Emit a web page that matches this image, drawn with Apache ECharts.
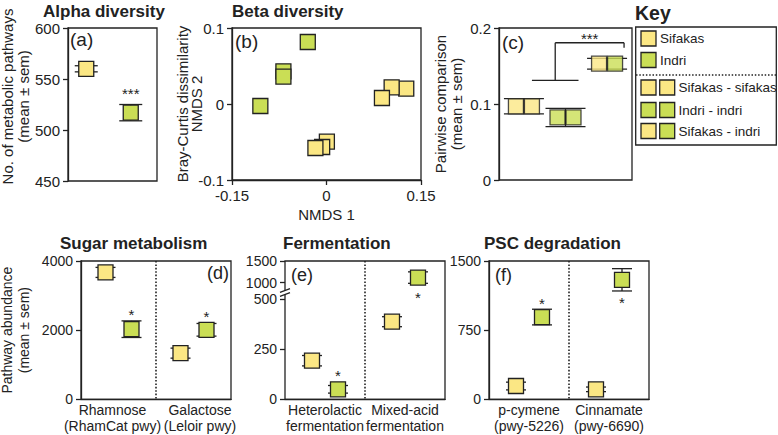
<!DOCTYPE html>
<html><head><meta charset="utf-8">
<script src="https://cdn.jsdelivr.net/npm/echarts@6/dist/echarts.min.js"></script>
<style>html,body{margin:0;padding:0;background:#fff}#c{width:778px;height:435px}</style>
</head><body><div id="c"></div>
<script>
// ---------------- data ----------------
const speciesNames = ['Sifakas', 'Indri'];

// (a) Alpha diversity
const alphaCategories = ['Sifakas', 'Indri'];
const alphaMean = [560, 517];
const alphaSem = [3, 8];
const alphaSig = ['', '***'];
const alphaTicks = [450, 500, 550, 600];

// (b) Beta diversity (NMDS 1, NMDS 2)
const betaSifakas = [[0.1266, 0.0201], [0.1034, 0.0220], [0.0880, 0.0079],
                     [0.0006, -0.0496], [-0.0069, -0.0566], [-0.0176, -0.0579]];
const betaIndri = [[-0.0297, 0.0816], [-0.0684, 0.0430], [-0.0684, 0.0360], [-0.1050, -0.0026]];
const betaXTicks = [-0.15, 0, 0.15];
const betaYTicks = [-0.1, 0, 0.1];

// (c) Pairwise comparison
const pairCategories = ['Sifakas - sifakas', 'Indri - indri', 'Sifakas - indri'];
const pairLeftSpecies = ['Sifakas', 'Indri', 'Sifakas'];
const pairRightSpecies = ['Sifakas', 'Indri', 'Indri'];
const pairMean = [0.097, 0.0823, 0.153];
const pairSem = [0.010, 0.012, 0.007];
const pairBracketY = [0.131, 0.1806, 0.174];
const pairSig = '***';
const pairTicks = [0, 0.1, 0.2];

// (d) Sugar metabolism
const sugarCategories = ['Rhamnose\n(RhamCat pwy)', 'Galactose\n(Leloir pwy)'];
const sugarSifakasMean = [3670, 1335];
const sugarSifakasSem = [145, 145];
const sugarIndriMean = [2028, 2010];
const sugarIndriSem = [240, 183];
const sugarSig = ['*', '*'];
const sugarSigSide = ['top', 'top'];
const sugarTicks = [0, 2000, 4000];

// (e) Fermentation (broken axis)
const fermCategories = ['Heterolactic\nfermentation', 'Mixed-acid\nfermentation'];
const fermSifakasMean = [193, 388];
const fermSifakasSem = [26, 25];
const fermIndriMean = [50, 1118];
const fermIndriSem = [19, 132];
const fermSig = ['*', '*'];
const fermSigSide = ['top', 'bottom'];
const fermLowTicks = [0, 250, 500];
const fermHighTicks = [1000, 1500];

// (f) PSC degradation
const pscCategories = ['p-cymene\n(pwy-5226)', 'Cinnamate\n(pwy-6690)'];
const pscSifakasMean = [144, 108];
const pscSifakasSem = [42, 25];
const pscIndriMean = [892, 1296];
const pscIndriSem = [85, 121];
const pscSig = ['*', '*'];
const pscSigSide = ['top', 'bottom'];
const pscTicks = [0, 750, 1500];

// ---------------- style ----------------
const FONT = '"Liberation Sans", Arial, Helvetica, sans-serif';
const INK = '#222222';
const COLORS = { Sifakas: '#FBE784', Indri: '#CADE55' };
const LW = 1.3;
const SQ = 15;

const chart = echarts.init(document.getElementById('c'), null, { renderer: 'svg' });

const plain = v => String(Math.round(v * 1000) / 1000);
function valueAxis(gi, ticks, fs, extra) {
  return Object.assign({
    type: 'value', gridIndex: gi,
    min: ticks[0], max: ticks[ticks.length - 1], interval: ticks[1] - ticks[0],
    axisLine: { show: true, onZero: false, lineStyle: { color: INK, width: LW } },
    axisTick: { show: true, length: 5, lineStyle: { color: INK, width: LW } },
    axisLabel: { color: INK, fontSize: fs, lineHeight: fs, fontFamily: FONT, margin: 8, formatter: plain },
    splitLine: { show: false }
  }, extra || {});
}
function yName(name, gap, fs, lh, pad) {
  return { name: name, nameLocation: 'middle', nameRotate: 90, nameGap: gap, nameMoveOverlap: false,
    nameTextStyle: { color: INK, fontSize: fs, fontFamily: FONT, lineHeight: lh, padding: pad || 0 } };
}
function catAxis(gi, cats, showLabels, dividers, pads) {
  return {
    type: 'category', gridIndex: gi, boundaryGap: true,
    data: cats.map((c, i) => pads ? { value: c, textStyle: { padding: pads[i] } } : c),
    show: true,
    axisLine: { show: showLabels, onZero: false, lineStyle: { color: INK, width: LW } },
    axisTick: { show: false, interval: 0 },
    axisLabel: { show: showLabels, interval: 0, color: INK, fontSize: 14, fontFamily: FONT, lineHeight: 15.5, margin: 3 },
    splitLine: { show: dividers, interval: 0, showMinLine: false, showMaxLine: false,
      lineStyle: { color: INK, width: 1.6, type: [1.6, 1.8] } }
  };
}

// error bars (+ optional significance stars) drawn through the axis scales
function errSeries(xi, yi, items, capW, offset, starTop, starBottom) {
  return {
    type: 'custom', xAxisIndex: xi, yAxisIndex: yi, z: 2, silent: true,
    data: items.map(d => [d.x, d.m, d.s]),
    renderItem: function (params, api) {
      const d = items[params.dataIndex];
      const x = api.value(0), m = api.value(1), s = api.value(2);
      const pt = api.coord([x, m + s]), pb = api.coord([x, m - s]), pm = api.coord([x, m]);
      const cx = pm[0] + offset;
      const st = { stroke: INK, lineWidth: LW };
      const ch = [
        { type: 'line', shape: { x1: cx, y1: pt[1], x2: cx, y2: pb[1] }, style: st },
        { type: 'line', shape: { x1: cx - capW / 2, y1: pt[1], x2: cx + capW / 2, y2: pt[1] }, style: st },
        { type: 'line', shape: { x1: cx - capW / 2, y1: pb[1], x2: cx + capW / 2, y2: pb[1] }, style: st }
      ];
      if (d.sig) {
        const topEdge = Math.min(pt[1], pm[1] - SQ / 2);
        const botEdge = Math.max(pb[1], pm[1] + SQ / 2);
        const y = d.side === 'bottom' ? botEdge + (starBottom || 12) : topEdge - (starTop || 6);
        ch.push({ type: 'text', style: { text: d.sig, x: cx, y: y, align: 'center', verticalAlign: 'middle',
          fill: INK, font: '15px ' + FONT } });
      }
      return { type: 'group', children: ch };
    }
  };
}
function squareSeries(name, xi, yi, points, color, offset) {
  return {
    type: 'scatter', name: name, xAxisIndex: xi, yAxisIndex: yi, z: 3,
    symbol: 'rect', symbolSize: SQ, symbolOffset: [offset || 0, 0],
    itemStyle: { color: color, borderColor: INK, borderWidth: LW, opacity: 1 },
    emphasis: { disabled: true },
    data: points
  };
}
function groupItems(means, sems, sig, side, filter) {
  const out = [];
  means.forEach((m, i) => {
    if (filter && !filter(m)) return;
    out.push({ x: i, m: m, s: sems[i], sig: sig ? sig[i] : '', side: side ? side[i] : 'top' });
  });
  return out;
}

// ---------- grids ----------
const grids = [
  { left: 68, top: 28, width: 89, height: 153 },          // 0 a
  { left: 232, top: 28, width: 189, height: 152 },        // 1 b
  { left: 499, top: 28, width: 133, height: 152 },        // 2 c
  { left: 81, top: 261, width: 150, height: 138.3 },      // 3 d
  { left: 285, top: 261, width: 160, height: 138.3 },     // 4 e frame
  { left: 285, top: 261, width: 160, height: 30.4 },      // 5 e upper
  { left: 285, top: 299.3, width: 160, height: 100 },     // 6 e lower
  { left: 489, top: 261, width: 160, height: 138.3 }      // 7 f
].map((g, i) => Object.assign({ show: (i !== 5 && i !== 6), borderColor: INK, borderWidth: LW,
  containLabel: false, outerBoundsMode: 'none' }, g));

const xAxes = [
  catAxis(0, alphaCategories, false, false),
  valueAxis(1, betaXTicks, 15, Object.assign({
    name: 'NMDS 1', nameLocation: 'middle', nameGap: 27,
    nameTextStyle: { color: INK, fontSize: 15, fontFamily: FONT } })),
  { type: 'value', gridIndex: 2, min: -0.6, max: 2.6, show: false, splitLine: { show: false } },
  catAxis(3, sugarCategories, true, true, [[0, 12, 0, 0], [0, 0, 0, 13]]),
  catAxis(4, fermCategories, true, true),
  Object.assign(catAxis(5, fermCategories, false, false), { show: false }),
  Object.assign(catAxis(6, fermCategories, false, false), { show: false }),
  catAxis(7, pscCategories, true, true)
];
const yAxes = [
  valueAxis(0, alphaTicks, 15, yName('No. of metabolic pathways\n(mean ± sem)', 37, 15, 16, [0, 0, 0, 16])),
  valueAxis(1, betaYTicks, 15, yName('Bray-Curtis dissimilarity\nNMDS 2', 29, 15, 14)),
  valueAxis(2, pairTicks, 15, yName('Pairwise comparison\n(mean ± sem)', 35, 15, 16)),
  valueAxis(3, sugarTicks, 14, yName('Pathway abundance\n(mean ± sem)', 49, 14, 17)),
  { type: 'value', gridIndex: 4, min: 0, max: 1, show: false, splitLine: { show: false } },
  valueAxis(5, fermHighTicks, 14, {
    min: 800, max: fermHighTicks[fermHighTicks.length - 1],
    axisLine: { show: false },
    axisTick: { show: true, length: 5, customValues: fermHighTicks, lineStyle: { color: INK, width: LW } },
    axisLabel: { color: INK, fontSize: 14, lineHeight: 14, fontFamily: FONT, margin: 8, customValues: fermHighTicks, formatter: plain }
  }),
  valueAxis(6, fermLowTicks, 14, { axisLine: { show: false } }),
  valueAxis(7, pscTicks, 14)
];
delete yAxes[5].interval;

const series = [];
const OFF = 13;
// (a)
const alphaItems = groupItems(alphaMean, alphaSem, alphaSig, null);
series.push(errSeries(0, 0, alphaItems, 23, -4, 11));
alphaItems.forEach((d, i) => series.push(squareSeries(speciesNames[i], 0, 0, [[d.x, d.m]], COLORS[speciesNames[i]], -4)));
// (b)
series.push(squareSeries('Sifakas', 1, 1, betaSifakas, COLORS.Sifakas, 0));
series.push(squareSeries('Indri', 1, 1, betaIndri, COLORS.Indri, 0));
// (c)
const pairItems = groupItems(pairMean, pairSem, null, null);
series.push(errSeries(2, 2, pairItems, 40, 0));
series.push({
  type: 'scatter', xAxisIndex: 2, yAxisIndex: 2, z: 3, symbol: 'rect', symbolSize: SQ, symbolOffset: [-8, 0],
  itemStyle: { borderColor: INK, borderWidth: LW },
  data: pairMean.map((m, i) => ({ value: [i, m], itemStyle: { color: COLORS[pairLeftSpecies[i]] } }))
});
series.push({
  type: 'scatter', xAxisIndex: 2, yAxisIndex: 2, z: 3, symbol: 'rect', symbolSize: SQ, symbolOffset: [8, 0],
  itemStyle: { borderColor: INK, borderWidth: LW },
  data: pairMean.map((m, i) => ({ value: [i, m], itemStyle: { color: COLORS[pairRightSpecies[i]] } }))
});
series.push({
  type: 'custom', xAxisIndex: 2, yAxisIndex: 2, z: 2, silent: true,
  data: [[0, pairBracketY[0]]],
  renderItem: function (params, api) {
    const g0 = api.coord([0, pairBracketY[0]]), g1 = api.coord([1, pairBracketY[0]]);
    const g2 = api.coord([2, pairBracketY[1]]), gEnd = api.coord([2, pairBracketY[2]]);
    const st = { stroke: INK, lineWidth: LW };
    const midX = (g0[0] + 8 + g1[0] + 13) / 2;
    const rx = g2[0] + 17;
    return { type: 'group', children: [
      { type: 'line', shape: { x1: g0[0] + 8, y1: g0[1], x2: g1[0] + 13, y2: g1[1] }, style: st },
      { type: 'line', shape: { x1: midX, y1: g0[1], x2: midX, y2: g2[1] }, style: st },
      { type: 'line', shape: { x1: midX, y1: g2[1], x2: rx, y2: g2[1] }, style: st },
      { type: 'line', shape: { x1: rx, y1: g2[1], x2: rx, y2: gEnd[1] }, style: st },
      { type: 'text', style: { text: pairSig, x: (midX + rx) / 2, y: g2[1] - 4, align: 'center', verticalAlign: 'middle',
        fill: INK, font: '15px ' + FONT } }
    ] };
  }
});
// bottom panels
function bottomPanel(xi, yi, sMean, sSem, iMean, iSem, sig, side, filter) {
  const sItems = groupItems(sMean, sSem, null, null, filter);
  const iItems = groupItems(iMean, iSem, sig, side, filter);
  series.push(errSeries(xi, yi, sItems, 20, -OFF));
  series.push(errSeries(xi, yi, iItems, 20, OFF));
  series.push(squareSeries('Sifakas', xi, yi, sItems.map(d => [d.x, d.m]), COLORS.Sifakas, -OFF));
  series.push(squareSeries('Indri', xi, yi, iItems.map(d => [d.x, d.m]), COLORS.Indri, OFF));
}
bottomPanel(3, 3, sugarSifakasMean, sugarSifakasSem, sugarIndriMean, sugarIndriSem, sugarSig, sugarSigSide);
bottomPanel(5, 5, fermSifakasMean, fermSifakasSem, fermIndriMean, fermIndriSem, fermSig, fermSigSide, m => m >= 800);
bottomPanel(6, 6, fermSifakasMean, fermSifakasSem, fermIndriMean, fermIndriSem, fermSig, fermSigSide, m => m <= fermLowTicks[fermLowTicks.length - 1]);
bottomPanel(7, 7, pscSifakasMean, pscSifakasSem, pscIndriMean, pscIndriSem, pscSig, pscSigSide);

// ---------- texts & key ----------
function txt(text, x, y, size, opts) {
  return Object.assign({ type: 'text', z: 100, style: Object.assign({ text: text, x: x, y: y, fill: INK,
    font: size + 'px ' + FONT, align: 'left', verticalAlign: 'middle' }, (opts && opts.style) || {}) },
    opts && opts.el || {});
}
const bold = s => ({ style: { font: 'bold ' + s + 'px ' + FONT } });
const graphics = [
  txt('Alpha diversity', 43, 11, 17, bold(17)),
  txt('Beta diversity', 232, 11.5, 17, bold(17)),
  txt('Sugar metabolism', 60, 243, 17, bold(17)),
  txt('Fermentation', 283, 243, 17, bold(17)),
  txt('PSC degradation', 484, 243, 17, bold(17)),
  txt('Key', 635, 13, 19.5, bold(19.5)),
  txt('(a)', 70, 39.5, 19),
  txt('(b)', 235, 41, 19),
  txt('(c)', 502, 42, 19),
  txt('(d)', 229, 273, 18, { style: { align: 'right' } }),
  txt('(e)', 291, 275, 18),
  txt('(f)', 495, 275, 18),
  // axis break marks on (e)
  { type: 'rect', z: 100, shape: { x: 281, y: 290.3, width: 8, height: 4.4 }, style: { fill: '#fff' } },
  { type: 'line', z: 101, shape: { x1: 280, y1: 292.3, x2: 290, y2: 288.6 }, style: { stroke: INK, lineWidth: LW } },
  { type: 'line', z: 101, shape: { x1: 280, y1: 296.3, x2: 290, y2: 292.6 }, style: { stroke: INK, lineWidth: LW } },
  // key frame
  { type: 'rect', z: 100, shape: { x: 635.7, y: 27, width: 140.6, height: 118 }, style: { fill: 'none', stroke: INK, lineWidth: LW } },
  { type: 'line', z: 100, shape: { x1: 636, y1: 75, x2: 776, y2: 75 }, style: { stroke: INK, lineWidth: 1.5, lineDash: [1.5, 1.8] } }
];
const keyEntries = [
  { label: speciesNames[0], colors: [COLORS.Sifakas], y: 38.5 },
  { label: speciesNames[1], colors: [COLORS.Indri], y: 60 },
  { label: pairCategories[0], colors: [COLORS[pairLeftSpecies[0]], COLORS[pairRightSpecies[0]]], y: 87.5 },
  { label: pairCategories[1], colors: [COLORS[pairLeftSpecies[1]], COLORS[pairRightSpecies[1]]], y: 110 },
  { label: pairCategories[2], colors: [COLORS[pairLeftSpecies[2]], COLORS[pairRightSpecies[2]]], y: 131 }
];
keyEntries.forEach(e => {
  e.colors.forEach((c, k) => graphics.push({ type: 'rect', z: 100,
    shape: { x: 641 + k * 18.7, y: e.y - 7.5, width: 15, height: 15 },
    style: { fill: c, stroke: INK, lineWidth: LW } }));
  graphics.push(txt(e.label, e.colors.length === 1 ? 660 : 678.5, e.y, 13.5));
});

chart.setOption({
  animation: false,
  backgroundColor: '#ffffff',
  textStyle: { fontFamily: FONT },
  grid: grids, xAxis: xAxes, yAxis: yAxes, series: series,
  graphic: { elements: graphics }
});
</script></body></html>
